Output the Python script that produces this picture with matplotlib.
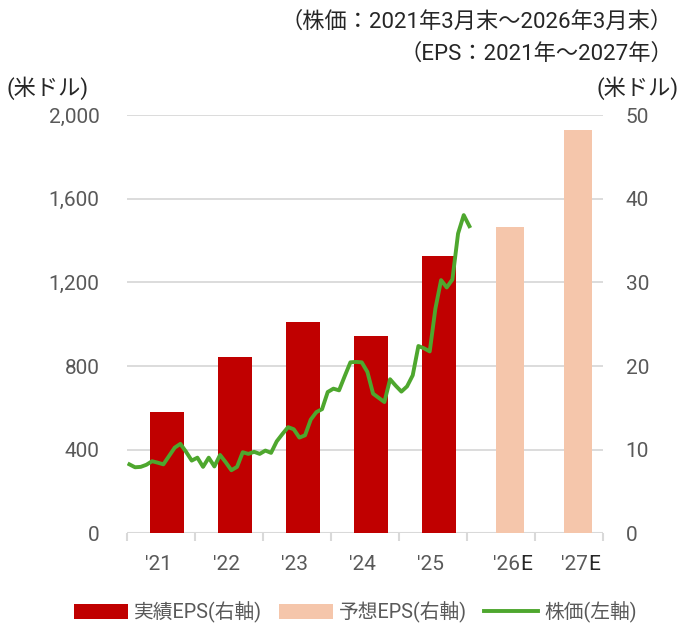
import matplotlib
matplotlib.use('Agg')
import matplotlib.pyplot as plt
from matplotlib.patches import Patch
from matplotlib.lines import Line2D
import numpy as np

plt.rcParams['font.family'] = ['Roboto', 'Noto Sans CJK JP', 'DejaVu Sans']

# データ
years = ["'21", "'22", "'23", "'24", "'25", "'26", "'27"]
estimate_flag = [False, False, False, False, False, True, True]
eps = [14.5, 21.1, 25.3, 23.6, 33.2, 36.6, 48.2]
# 株価 月末 2021年3月〜2026年3月
price = [330, 316, 318, 328, 345, 338, 330, 370, 410, 428,
         390, 348, 362, 318, 362, 320, 375, 340, 302, 318,
         388, 380, 390, 380, 396, 385, 440, 475, 508, 498,
         458, 469, 544, 580, 594, 676, 692, 684, 752, 818,
         820, 818, 772, 668, 648, 628, 737, 706, 678, 703,
         756, 896, 885, 870, 1075, 1211, 1176, 1214, 1434, 1522,
         1469]
left_ticks = [0, 400, 800, 1200, 1600, 2000]
right_ticks = [0, 10, 20, 30, 40, 50]

RED = '#C00000'
PEACH = '#F5C6AB'
GREEN = '#4EA72E'
GRID = '#D9D9D9'
GRAY = '#595959'
DARK = '#262626'

fig = plt.figure(figsize=(6.81, 6.26), dpi=100)
ax = fig.add_axes([0.187, 0.148, 0.699, 0.668])
ax2 = ax.twinx()

# 棒（右軸）
for i, (v, est) in enumerate(zip(eps, estimate_flag)):
    if est:
        ax.bar(i + 0.13, v, width=0.41, color=PEACH, zorder=2)
    else:
        ax.bar(i + 0.085, v, width=0.5, color=RED, zorder=2)

ax.set_ylim(0, 50)
ax.set_xlim(-0.5, len(years) - 0.5)
ax.set_yticks(right_ticks)
ax.yaxis.tick_right()
ax.set_yticklabels([str(t) for t in right_ticks], fontsize=15, color=GRAY, ha='left')
ax.tick_params(axis='y', length=0, pad=16)
ax.grid(axis='y', color=GRID, linewidth=1.3)
ax.set_axisbelow(True)

# 株価ライン（左軸）
xm = np.arange(len(price)) / 12 - 0.47
ax2.plot(xm, price, color=GREEN, linewidth=2.8, zorder=3)
ax2.set_ylim(0, 2000)
ax2.set_yticks(left_ticks)
ax2.yaxis.tick_left()
ax2.set_yticklabels([f'{t:,}' for t in left_ticks], fontsize=15, color=GRAY)
ax2.tick_params(axis='y', length=0, pad=20)

for a in (ax, ax2):
    for s in ('top', 'left', 'right', 'bottom'):
        a.spines[s].set_visible(False)

# x軸
ax.axhline(0, color=GRID, linewidth=1.5, zorder=1)
ax.set_xticks(np.arange(len(years) + 1) - 0.5)
ax.set_xticklabels([])
ax.tick_params(axis='x', length=6, color=GRID, width=1.5)
xt = ax.get_xaxis_transform()
for i, (lab, est) in enumerate(zip(years, estimate_flag)):
    if est:
        ax.text(i + 0.27, -0.075, lab, transform=xt,
                ha='right', va='center', fontsize=15, color=GRAY)
        ax.text(i + 0.285, -0.075, 'E', transform=xt,
                ha='left', va='center', fontsize=15, color=DARK)
    else:
        ax.text(i - 0.04, -0.075, lab, transform=xt,
                ha='center', va='center', fontsize=15, color=GRAY)

# 注記
fig.text(0.988, 0.965, '（株価：2021年3月末～2026年3月末）', ha='right', va='center',
         fontsize=16, color=DARK)
fig.text(0.988, 0.913, '（EPS：2021年～2027年）', ha='right', va='center',
         fontsize=16, color=DARK)
fig.text(0.010, 0.859, '(米ドル)', ha='left', va='center', fontsize=16, color=DARK)
fig.text(0.997, 0.859, '(米ドル)', ha='right', va='center', fontsize=16, color=DARK)

handles = [Patch(facecolor=RED, edgecolor='none'),
           Patch(facecolor=PEACH, edgecolor='none'),
           Line2D([0], [0], color=GREEN, linewidth=2.8)]
fig.legend(handles, ['実績EPS(右軸)', '予想EPS(右軸)', '株価(左軸)'],
           loc='center', bbox_to_anchor=(0.522, 0.022), ncol=3, frameon=False,
           fontsize=14.2, labelcolor=GRAY, handlelength=2.75, handleheight=0.8,
           handletextpad=0.3, columnspacing=0.85)

fig.savefig('out.png', dpi=100)
plt.close(fig)
